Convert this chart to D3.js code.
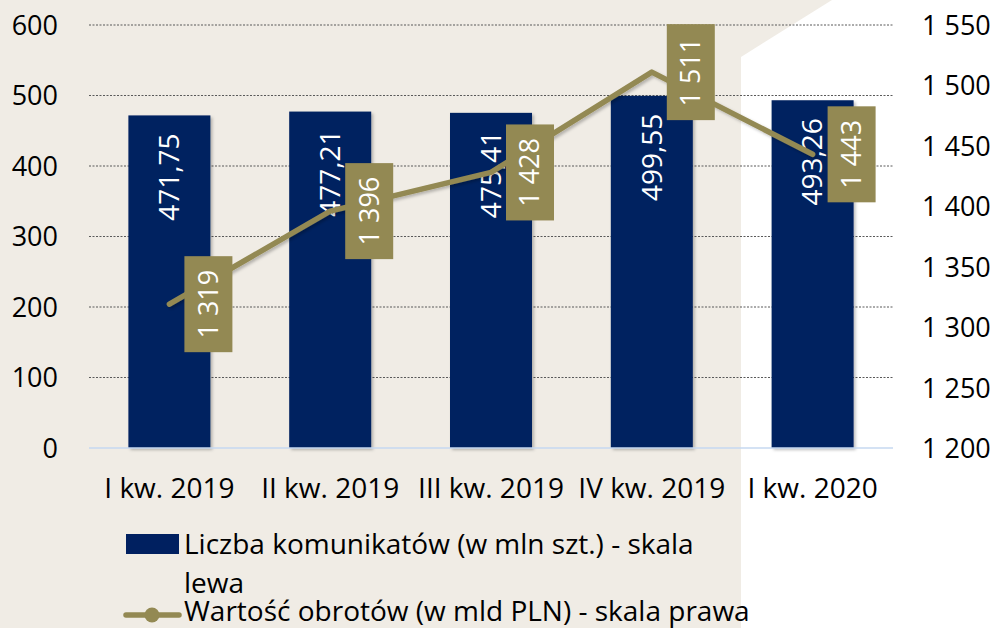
<!DOCTYPE html>
<html>
<head>
<meta charset="utf-8">
<script src="https://cdn.jsdelivr.net/npm/d3@7"></script>
<style>
  body { margin: 0; }
  svg { display: block; font-family: "Open Sans", sans-serif; }
</style>
</head>
<body>
<svg id="chart" width="997" height="628"></svg>
<script>
var quarters = ["I kw. 2019", "II kw. 2019", "III kw. 2019", "IV kw. 2019", "I kw. 2020"];
var messages = [471.75, 477.21, 475.41, 499.55, 493.26];
var turnover = [1319, 1396, 1428, 1511, 1443];
var leftTicks = [0, 100, 200, 300, 400, 500, 600];
var rightTicks = [1200, 1250, 1300, 1350, 1400, 1450, 1500, 1550];
var legendBar = ["Liczba komunikatów (w mln szt.) - skala", "lewa"];
var legendLine = "Wartość obrotów (w mld PLN) - skala prawa";

var navy = "#002060",
    olive = "#938953",
    beige = "#f0ece5";

var svg = d3.select("#chart");

var defs = svg.append("defs");
var shadow = defs.append("filter").attr("id", "shadow")
    .attr("x", "-20%").attr("y", "-20%").attr("width", "140%").attr("height", "140%");
shadow.append("feDropShadow")
    .attr("dx", 2).attr("dy", 2).attr("stdDeviation", 1.5)
    .attr("flood-color", "#000").attr("flood-opacity", 0.25);

// background
svg.append("rect").attr("width", 997).attr("height", 628).attr("fill", beige);
svg.append("polygon")
    .attr("points", "832,0 997,0 997,628 741,628 741,57")
    .attr("fill", "#fff");

var x = d3.scaleBand()
    .domain(quarters)
    .range([89, 893])
    .paddingInner(0.49)
    .paddingOuter(0.245);

var yLeft = d3.scaleLinear().domain([0, 600]).range([448, 25]);
var yRight = d3.scaleLinear().domain([1200, 1550]).range([448, 25]);

// gridlines
svg.append("g").attr("class", "grid")
    .selectAll("line")
    .data(leftTicks.filter(function(d) { return d > 0; }))
    .enter().append("line")
    .attr("x1", 89).attr("x2", 893)
    .attr("y1", function(d) { return yLeft(d); })
    .attr("y2", function(d) { return yLeft(d); })
    .attr("stroke", "#595959")
    .attr("stroke-width", 1)
    .attr("stroke-dasharray", "2,1.5");

// left axis
var leftAxis = svg.append("g")
    .attr("transform", "translate(58,0)")
    .call(d3.axisLeft(yLeft).tickValues(leftTicks).tickSize(0).tickPadding(0));
leftAxis.select(".domain").remove();
leftAxis.selectAll("text")
    .attr("font-size", 27).attr("font-family", "Open Sans").attr("fill", "#000")
    .attr("dy", "0.35em");

// right axis
var rightAxis = svg.append("g")
    .attr("transform", "translate(922,0)")
    .call(d3.axisRight(yRight).tickValues(rightTicks).tickSize(0).tickPadding(0)
        .tickFormat(function(d) { return d3.format(",")(d).replace(",", " "); }));
rightAxis.select(".domain").remove();
rightAxis.selectAll("text")
    .attr("font-size", 27).attr("font-family", "Open Sans").attr("fill", "#000")
    .attr("dy", "0.35em");

// bars
var bars = svg.append("g").selectAll("g.bar")
    .data(messages)
    .enter().append("g").attr("class", "bar");

bars.append("rect")
    .attr("x", function(d, i) { return x(quarters[i]); })
    .attr("y", function(d) { return yLeft(d); })
    .attr("width", x.bandwidth())
    .attr("height", function(d) { return yLeft(0) - yLeft(d); })
    .attr("fill", navy)
    .attr("filter", "url(#shadow)");

// baseline
svg.append("line")
    .attr("x1", 89).attr("x2", 893)
    .attr("y1", yLeft(0)).attr("y2", yLeft(0))
    .attr("stroke", "#c6d9f1").attr("stroke-width", 1.5);

// bar labels
bars.append("text")
    .attr("transform", function(d, i) {
        return "translate(" + (x(quarters[i]) + x.bandwidth() / 2) + "," + (yLeft(d) + 18) + ") rotate(-90)";
    })
    .attr("text-anchor", "end")
    .attr("dy", "0.35em")
    .attr("font-size", 28)
    .attr("fill", "#fff")
    .text(function(d) { return d3.format(".2f")(d).replace(".", ","); });

// category labels
svg.append("g").selectAll("text")
    .data(quarters)
    .enter().append("text")
    .attr("x", function(d) { return x(d) + x.bandwidth() / 2; })
    .attr("y", 498)
    .attr("text-anchor", "middle")
    .attr("font-size", 28)
    .attr("fill", "#000")
    .text(function(d) { return d; });

// line
var line = d3.line()
    .x(function(d, i) { return x(quarters[i]) + x.bandwidth() / 2; })
    .y(function(d) { return yRight(d); });

svg.append("path")
    .datum(turnover)
    .attr("d", line)
    .attr("fill", "none")
    .attr("stroke", olive)
    .attr("stroke-width", 5.5)
    .attr("stroke-linecap", "round")
    .attr("stroke-linejoin", "round")
    .attr("filter", "url(#shadow)");

// line labels
var lineLabels = svg.append("g").selectAll("g")
    .data(turnover)
    .enter().append("g")
    .attr("transform", function(d, i) {
        return "translate(" + (x(quarters[i]) + x.bandwidth() / 2 + 39) + "," + yRight(d) + ")";
    });

lineLabels.append("rect")
    .attr("x", -24).attr("y", -48)
    .attr("width", 48).attr("height", 96)
    .attr("fill", olive);

lineLabels.append("text")
    .attr("transform", "rotate(-90)")
    .attr("text-anchor", "middle")
    .attr("dy", "0.35em")
    .attr("font-size", 27)
    .attr("fill", "#fff")
    .text(function(d) { return d3.format(",")(d).replace(",", " "); });

// legend
var legend = svg.append("g").attr("class", "legend");
legend.append("rect")
    .attr("x", 126).attr("y", 534)
    .attr("width", 53).attr("height", 20)
    .attr("fill", navy);
legend.selectAll("text.bar")
    .data(legendBar)
    .enter().append("text").attr("class", "bar")
    .attr("x", 184)
    .attr("y", function(d, i) { return 554 + i * 39; })
    .attr("font-size", 28)
    .attr("fill", "#000")
    .text(function(d) { return d; });

legend.append("line")
    .attr("x1", 126).attr("x2", 179)
    .attr("y1", 615).attr("y2", 615)
    .attr("stroke", olive).attr("stroke-width", 5.5)
    .attr("stroke-linecap", "round");
legend.append("circle")
    .attr("cx", 152).attr("cy", 615).attr("r", 7.5)
    .attr("fill", olive);
legend.append("text")
    .attr("x", 184).attr("y", 621)
    .attr("font-size", 28)
    .attr("fill", "#000")
    .text(legendLine);
</script>
</body>
</html>
